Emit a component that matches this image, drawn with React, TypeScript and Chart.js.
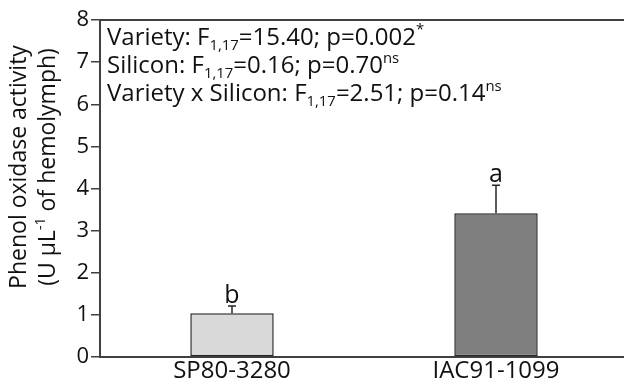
import React, { useEffect, useRef } from "react";
import { Chart, registerables } from "chart.js";

Chart.register(...registerables);

const categories = ["SP80-3280", "IAC91-1099"];
const means = [1.04, 3.41];
const errors = [0.17, 0.67];
const letters = ["b", "a"];
const barColors = ["#d9d9d9", "#7f7f7f"];
const yTicks = [0, 1, 2, 3, 4, 5, 6, 7, 8];

type Seg = { t: string; sub?: boolean; sup?: boolean };
const statLines: Seg[][] = [
  [{ t: "Variety: F" }, { t: "1,17", sub: true }, { t: "=15.40; p=0.002" }, { t: "*", sup: true }],
  [{ t: "Silicon: F" }, { t: "1,17", sub: true }, { t: "=0.16; p=0.70" }, { t: "ns", sup: true }],
  [{ t: "Variety x Silicon: F" }, { t: "1,17", sub: true }, { t: "=2.51; p=0.14" }, { t: "ns", sup: true }],
];
const yTitle1: Seg[] = [{ t: "Phenol oxidase activity" }];
const yTitle2: Seg[] = [{ t: "(U µL" }, { t: "-1", sup: true }, { t: " of hemolymph)" }];

const FONT = "'Open Sans', sans-serif";

function segWidth(ctx: CanvasRenderingContext2D, segs: Seg[], size: number) {
  let w = 0;
  for (const s of segs) {
    const fs = s.sub || s.sup ? size * 0.62 : size;
    ctx.font = `${fs}px ${FONT}`;
    w += ctx.measureText(s.t).width;
  }
  return w;
}

function drawSegs(ctx: CanvasRenderingContext2D, segs: Seg[], x: number, y: number, size: number) {
  let cx = x;
  ctx.textBaseline = "alphabetic";
  ctx.textAlign = "left";
  for (const s of segs) {
    const fs = s.sub || s.sup ? size * 0.62 : size;
    ctx.font = `${fs}px ${FONT}`;
    const dy = s.sub ? size * 0.22 : s.sup ? -size * 0.42 : 0;
    ctx.fillText(s.t, cx, y + dy);
    cx += ctx.measureText(s.t).width;
  }
}

const extras = {
  id: "extras",
  afterDatasetsDraw(chart: any) {
    const ctx: CanvasRenderingContext2D = chart.ctx;
    const xs = chart.scales.x;
    const ys = chart.scales.y;
    const area = chart.chartArea;
    ctx.save();
    // top frame line
    ctx.strokeStyle = "#404040";
    ctx.lineWidth = 2;
    ctx.beginPath();
    ctx.moveTo(area.left - 1, area.top);
    ctx.lineTo(area.right + 20, area.top);
    ctx.stroke();

    // error bars and letters
    ctx.strokeStyle = "#262626";
    ctx.lineWidth = 1.5;
    for (let i = 0; i < means.length; i++) {
      const x = xs.getPixelForValue(i);
      const y0 = ys.getPixelForValue(means[i]);
      const y1 = ys.getPixelForValue(means[i] + errors[i]);
      ctx.beginPath();
      ctx.moveTo(x, y0);
      ctx.lineTo(x, y1);
      ctx.moveTo(x - 4, y1);
      ctx.lineTo(x + 4, y1);
      ctx.stroke();
      ctx.fillStyle = "#111";
      ctx.font = `25px ${FONT}`;
      ctx.textAlign = "center";
      ctx.textBaseline = "alphabetic";
      ctx.fillText(letters[i], x, y1 - 3);
    }

    // stats text
    ctx.fillStyle = "#111";
    statLines.forEach((line, i) => {
      drawSegs(ctx, line, area.left + 7, 44.5 + i * 28.3, 24);
    });

    // y title (rotated)
    const cy = 167;
    ctx.save();
    ctx.translate(26, cy);
    ctx.rotate(-Math.PI / 2);
    let w = segWidth(ctx, yTitle1, 23);
    drawSegs(ctx, yTitle1, -w / 2, 0, 23);
    ctx.restore();
    ctx.save();
    ctx.translate(55, cy);
    ctx.rotate(-Math.PI / 2);
    w = segWidth(ctx, yTitle2, 23);
    drawSegs(ctx, yTitle2, -w / 2, 0, 23);
    ctx.restore();
    ctx.restore();
  },
};

export default function App() {
  const ref = useRef<HTMLCanvasElement>(null);
  useEffect(() => {
    if (!ref.current) return;
    const chart = new Chart(ref.current, {
      type: "bar",
      data: {
        labels: categories,
        datasets: [
          {
            data: means,
            backgroundColor: barColors,
            borderColor: "#262626",
            borderWidth: 1.5,
            borderSkipped: false,
            barPercentage: 0.316,
            categoryPercentage: 1,
          },
        ],
      },
      options: {
        animation: false,
        responsive: false,
        events: [],
        layout: { padding: { top: 20, right: 12, bottom: 0, left: 0 } },
        plugins: { legend: { display: false }, tooltip: { enabled: false } },
        scales: {
          x: {
            afterFit(s: any) {
              s.height = 29;
            },
            grid: { display: false, drawTicks: false, tickLength: 0 },
            border: { display: true, color: "#404040", width: 2 },
            ticks: { color: "#111", font: { family: FONT, size: 24, lineHeight: 1 }, padding: 2 },
          },
          y: {
            min: 0,
            max: 8,
            afterFit(s: any) {
              s.width = 100;
            },
            afterBuildTicks(s: any) {
              s.ticks = yTicks.map((v) => ({ value: v }));
            },
            grid: { drawOnChartArea: false, color: "#404040", lineWidth: 1.5, tickLength: 9 },
            border: { display: true, color: "#404040", width: 2 },
            ticks: { color: "#111", font: { family: FONT, size: 22 }, padding: 2 },
          },
        },
      },
      plugins: [extras],
    });
    return () => chart.destroy();
  }, []);
  return (
    <div style={{ position: "fixed", left: 0, top: 0, width: 624, height: 386, overflow: "hidden", background: "#fff" }}>
      <canvas ref={ref} width={640} height={386} style={{ display: "block" }} />
    </div>
  );
}
